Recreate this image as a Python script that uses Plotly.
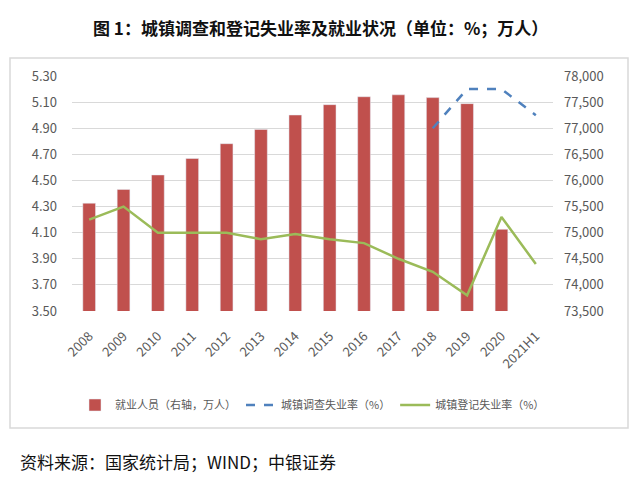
import plotly.graph_objects as go

# 数据
years = ['2008', '2009', '2010', '2011', '2012', '2013', '2014', '2015',
         '2016', '2017', '2018', '2019', '2020', '2021H1']
employed = [75564, 75828, 76105, 76420, 76704, 76977, 77253, 77451,
            77603, 77640, 77586, 77471, 75064, None]
survey_rate = [None, None, None, None, None, None, None, None,
               None, None, 4.90, 5.20, 5.20, 5.00]
registered_rate = [4.20, 4.30, 4.10, 4.10, 4.10, 4.05, 4.09, 4.05,
                   4.02, 3.90, 3.80, 3.62, 4.22, 3.86]

grey = '#595959'
fig = go.Figure()

# 柱子放在 y（右侧显示），折线放在 y2（左侧显示）以便画在柱子上面
fig.add_trace(go.Bar(x=years, y=employed, name='就业人员（右轴，万人）',
                     marker=dict(color='#c0504d'), yaxis='y'))
fig.add_trace(go.Scatter(x=years, y=survey_rate, name='城镇调查失业率（%）',
                         mode='lines', line=dict(color='#4f81bd', width=2.5, dash='dash'),
                         yaxis='y2'))
fig.add_trace(go.Scatter(x=years, y=registered_rate, name='城镇登记失业率（%）',
                         mode='lines', line=dict(color='#9bbb59', width=2.5),
                         yaxis='y2'))

font = 'Noto Sans CJK SC, Noto Sans, sans-serif'
# 页面本身有 8px 边距，所以边距整体减 8
fig.update_layout(
    width=640, height=487,
    margin=dict(l=64, r=95, t=68, b=184, autoexpand=False),
    paper_bgcolor='white', plot_bgcolor='white',
    font=dict(family=font, color=grey, size=12),
    bargap=0.63,
    xaxis=dict(tickangle=-45, tickfont=dict(size=13, color=grey), showline=False,
               ticks='', automargin=False, ticklabelstandoff=14),
    yaxis=dict(side='right', range=[73500, 78000], dtick=500, tick0=73500, tickformat=',',
               showgrid=True, gridcolor='#d9d9d9', zeroline=False, automargin=False,
               tickfont=dict(size=13, color=grey), ticks='', ticklabelstandoff=10),
    yaxis2=dict(side='left', overlaying='y', range=[3.5, 5.3], dtick=0.2, tick0=3.5,
                tickformat='.2f', showgrid=False, zeroline=False, automargin=False,
                tickfont=dict(size=13, color=grey), ticks='', ticklabelstandoff=14),
    legend=dict(orientation='h', x=0.5, xanchor='center', y=(311 - 405) / 235,
                yanchor='middle', font=dict(size=11, color=grey), itemwidth=30,
                bgcolor='rgba(0,0,0,0)'),
    showlegend=True,
)

# 外框
fig.add_shape(type='rect', xref='paper', yref='paper',
              x0=-62 / 481, x1=(628 - 72) / 481, y0=(311 - 428) / 235, y1=(311 - 58) / 235,
              line=dict(color='#d9d9d9', width=1.5), fillcolor='rgba(0,0,0,0)', layer='below')

# 标题和来源
fig.add_annotation(text='<b>图 1：城镇调查和登记失业率及就业状况（单位：%；万人）</b>',
                   xref='paper', yref='paper', x=(320 - 72) / 481, y=(311 - 28) / 235,
                   showarrow=False, font=dict(size=17, color='#111111', family=font),
                   xanchor='center', yanchor='middle')
fig.add_annotation(text='资料来源：国家统计局；WIND；中银证券',
                   xref='paper', yref='paper', x=(18 - 72) / 481, y=(311 - 461) / 235,
                   showarrow=False, font=dict(size=17, color='#111111', family=font),
                   xanchor='left', yanchor='middle')

fig.write_html('out.html')
